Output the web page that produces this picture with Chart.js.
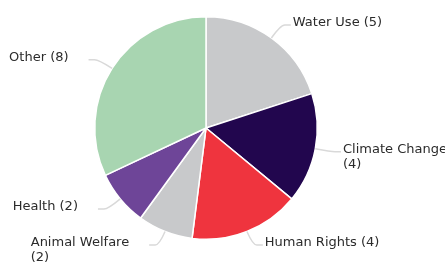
<!DOCTYPE html>
<html>
<head>
<meta charset="utf-8">
<script src="https://cdn.jsdelivr.net/npm/chart.js@4.4.0/dist/chart.umd.min.js"></script>
<style>
  html, body { margin: 0; padding: 0; background: #fff; }
  #wrap { width: 445px; height: 264px; }
</style>
</head>
<body>
<div id="wrap"><canvas id="pieChart" width="445" height="264"></canvas></div>
<script>
// Data
const categories = ['Water Use', 'Climate Change', 'Human Rights', 'Animal Welfare', 'Health', 'Other'];
const counts = [5, 4, 4, 2, 2, 8];
const sliceColors = ['#c8c9cb', '#22064e', '#ef343e', '#c8c9cb', '#6e4598', '#a8d5b1'];

const labelFont = '13px "DejaVu Sans", Verdana, sans-serif';

// Draw labels outside the pie with curved leader lines
const outsideLabels = {
    id: 'outsideLabels',
    afterDatasetsDraw(chart) {
        const ctx = chart.ctx;
        const meta = chart.getDatasetMeta(0);
        const W = chart.width, H = chart.height;
        const maxLabelWidth = W * 0.265;
        ctx.save();
        ctx.font = labelFont;
        meta.data.forEach((arc, i) => {
            const mid = (arc.startAngle + arc.endAngle) / 2;
            const r = arc.outerRadius;
            const cos = Math.cos(mid), sin = Math.sin(mid);
            const right = cos >= 0;
            const dir = right ? 1 : -1;
            const ex = arc.x + cos * r, ey = arc.y + sin * r;
            const bx = arc.x + cos * (r + 16);
            const by = Math.min(arc.y + sin * (r + 16), H - 19);
            const endX = bx + dir * 10;

            ctx.strokeStyle = '#d9d9d9';
            ctx.lineWidth = 1.5;
            ctx.beginPath();
            ctx.moveTo(ex, ey);
            ctx.quadraticCurveTo(bx, by, bx + dir * 4, by);
            ctx.lineTo(endX, by);
            ctx.stroke();

            // wrap long labels onto two lines
            const text = categories[i] + ' (' + counts[i] + ')';
            let lines = [text];
            if (ctx.measureText(text).width > maxLabelWidth) {
                lines = [categories[i], '(' + counts[i] + ')'];
            }
            const w = Math.max(...lines.map(l => ctx.measureText(l).width));
            const tx = right ? endX + 2 : endX - 20 - w;
            ctx.fillStyle = '#2b2b2b';
            ctx.textAlign = 'left';
            ctx.textBaseline = 'alphabetic';
            lines.forEach((l, k) => ctx.fillText(l, tx, by + 1 + k * 15));
        });
        ctx.restore();
    }
};

new Chart(document.getElementById('pieChart').getContext('2d'), {
    type: 'pie',
    data: {
        labels: categories,
        datasets: [{
            data: counts,
            backgroundColor: sliceColors,
            borderColor: '#ffffff',
            borderWidth: 1.5
        }]
    },
    options: {
        responsive: false,
        animation: false,
        layout: { padding: { top: 16, bottom: 24, left: 0, right: 33 } },
        plugins: {
            legend: { display: false },
            tooltip: { enabled: false }
        }
    },
    plugins: [outsideLabels]
});
</script>
</body>
</html>
